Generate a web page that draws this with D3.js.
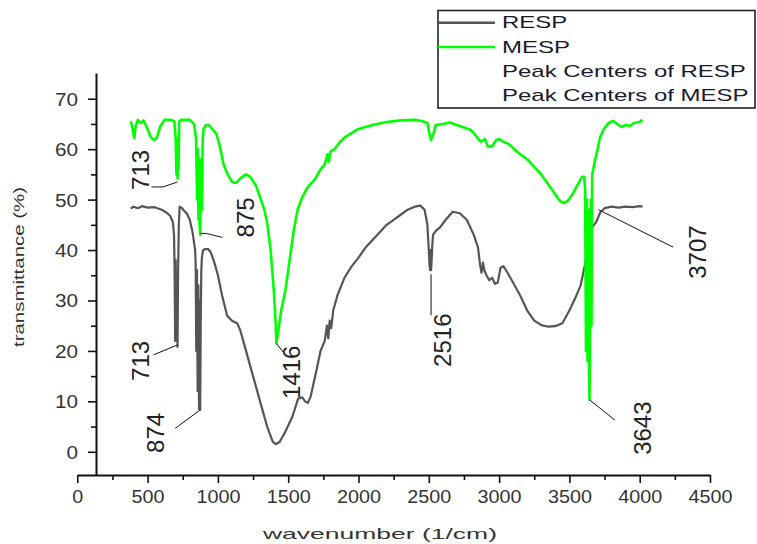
<!DOCTYPE html>
<html>
<head>
<meta charset="utf-8">
<script src="https://cdn.jsdelivr.net/npm/d3@7"></script>
<style>
  html, body { margin: 0; padding: 0; background: #fff; }
  svg { display: block; font-family: "Liberation Sans", Arial, sans-serif; }
</style>
</head>
<body>
<svg id="chart" width="757" height="544"></svg>
<script>
// ---------------- data: [wavenumber (1/cm), transmittance (%)] ----------------
const respPoints = [
  [380,48.2],[400,48.6],[430,48.3],[460,48.7],[500,48.4],[550,48.5],[600,48.0],[630,47.5],[660,46.8],[680,45.5],
  [688,43],[692,36],[696,22],[700,38],[704,22],[708,34],[713,20.8],[717,36],[722,45],[728,48.6],
  [745,48.3],[760,47.8],[780,47.2],[800,46],[820,43.5],[838,40],[842,37],[846,20],[851,36],[856,12],
  [861,33],[866,8.5],[870,30],[874,8.3],[878,26],[882,36],[886,38.5],[895,40],[910,40.2],[930,40.2],
  [950,39.5],[975,37.5],[1000,35],[1030,31],[1065,27],[1100,26],[1137,25.5],[1160,24],[1200,20],[1250,15],
  [1300,10],[1350,5],[1390,2],[1412,1.5],[1440,2],[1480,4],[1530,7],[1570,10.5],[1600,10.8],[1620,10],
  [1640,9.7],[1660,11],[1700,16],[1730,20],[1760,22],[1775,25],[1785,22.5],[1795,26],[1806,24.5],[1820,28],
  [1850,31],[1900,34.5],[1950,36.7],[2000,38.5],[2050,40.5],[2100,42],[2150,43.5],[2200,45],[2250,46],[2300,47],
  [2350,48],[2400,48.6],[2440,48.8],[2470,48],[2490,45],[2500,40],[2505,37],[2510,36],[2513,40],[2516,36],
  [2520,38],[2525,41],[2530,43],[2550,43.8],[2580,44.5],[2620,46],[2670,47.6],[2720,47.3],[2770,46],[2820,43],
  [2850,40.5],[2865,37],[2875,35.5],[2885,37.5],[2895,36],[2910,35],[2930,34],[2950,34.5],[2970,33.3],[2990,33.5],
  [3010,36.5],[3030,36.8],[3060,35.5],[3100,33.5],[3150,31],[3200,28],[3250,26],[3300,25.1],[3350,24.8],[3400,24.9],
  [3450,25.5],[3500,28],[3550,31],[3580,33],[3610,37],[3630,40.5],[3645,43],[3660,44.5],[3690,45.5],[3720,47.5],
  [3750,48.3],[3800,48.6],[3850,48.4],[3900,48.6],[3950,48.5],[4000,48.7],[4020,48.6]
];

const mespPoints = [
  [380,65.5],[390,64.5],[400,63],[405,62.2],[415,64.5],[430,65.8],[450,65.2],[470,65.7],[500,64],[520,62.5],
  [545,61.8],[565,62.2],[590,64.5],[620,65.8],[660,65.8],[690,65.6],[700,62],[705,55],[710,60],[713,54.2],
  [716,62],[720,56],[725,65.5],[740,65.8],[800,65.8],[830,65],[845,62],[852,50],[857,60],[862,46],
  [866,58],[870,45],[875,43],[880,58],[886,48],[892,62],[898,64],[915,64.8],[935,64.8],[960,64],
  [990,63],[1010,61],[1040,57],[1070,55],[1100,53.5],[1130,53.3],[1160,54.2],[1200,55],[1230,54.5],[1270,52.8],
  [1300,50.5],[1330,48],[1350,45.5],[1375,40],[1395,33],[1410,26],[1416,21.5],[1430,24],[1450,28],[1480,32],
  [1510,38],[1540,44],[1567,48],[1600,50.5],[1640,52.5],[1690,54],[1730,56],[1760,57],[1780,59],[1790,57.5],
  [1800,59.5],[1830,60],[1870,61.5],[1910,62.5],[1950,63.2],[2000,64],[2100,64.8],[2200,65.4],[2300,65.7],[2400,65.8],
  [2450,65.6],[2490,65.2],[2505,63],[2516,61.8],[2530,62.8],[2550,64.8],[2600,65],[2650,65.3],[2700,64.8],[2750,64.3],
  [2800,63.8],[2840,62.5],[2870,61.5],[2900,62],[2920,60.5],[2950,60.6],[2980,61.8],[3000,62],[3030,61.5],[3070,61],
  [3100,60.2],[3150,59],[3200,58],[3250,56.5],[3300,55],[3350,53],[3400,51],[3430,49.8],[3460,49.3],[3490,49.8],
  [3520,51],[3560,53],[3590,54.5],[3605,54.5],[3612,52],[3618,20],[3624,50],[3629,18],[3634,48],[3638,20],
  [3643,10.3],[3648,30],[3652,50],[3657,25],[3662,55],[3670,56],[3680,57.5],[3700,60],[3720,62.5],[3745,64],
  [3780,65.2],[3810,65.6],[3840,65],[3870,64.4],[3900,64.8],[3930,64.6],[3960,65.2],[4000,65.4],[4020,65.8]
];

const seriesNames = ["RESP", "MESP"];
const legendLabels = ["RESP", "MESP", "Peak Centers of RESP", "Peak Centers of MESP"];

const xTicks = [0,500,1000,1500,2000,2500,3000,3500,4000,4500];
const xMinorTicks = [250,750,1250,1750,2250,2750,3250,3750,4250];
const yTicks = [0,10,20,30,40,50,60,70];
const yMinorTicks = [5,15,25,35,45,55,65];

const peakLabels = ["713","713","874","875","1416","2516","3643","3707"];
const peakWn     = [713,713,874,875,1416,2516,3643,3707];
const peakT      = [53.5,21.2,8.3,43.3,21.5,36,10.3,48];

// ---------------- layout ----------------
const colors = { RESP: "#555555", MESP: "#00ff00" };
// leader polyline offsets (px) from the peak point, and label centre offset
const peakLayout = [
  { pts: [[-14.5,5],[-26,5]],  text: [-37.5,-12] },
  { pts: [[-24,10]],            text: [-37.5,16] },
  { pts: [[-25,18.4]],          text: [-45,23] },
  { pts: [[6,0],[22,4]],        text: [45,-16] },
  { pts: [[7,9]],               text: [15,29] },
  { pts: [[0,45]],              text: [11,70], start: [0,4] },
  { pts: [[25.5,20.3]],         text: [52.5,28.3] },
  { pts: [[74.5,37.4]],         text: [98.5,42.4] }
];

const svg = d3.select("#chart");
const x = d3.scaleLinear().domain([0, 4500]).range([77.3, 710]);
const y = d3.scaleLinear().domain([-4.6, 75.1]).range([475, 73]);
const yAxisX = 96;
const xAxisY = 475;

function stretch(sel, factor) {
  sel.each(function() {
    const n = this.getComputedTextLength();
    d3.select(this).attr("textLength", n * factor).attr("lengthAdjust", "spacingAndGlyphs");
  });
}

// ---------------- axes ----------------
const gx = svg.append("g").attr("transform", `translate(0,${xAxisY})`)
  .call(d3.axisBottom(x).tickValues(xTicks).tickFormat(d3.format("d")).tickSize(8).tickSizeOuter(0).tickPadding(0));
gx.select(".domain").attr("stroke", "#111").attr("stroke-width", 2);
gx.selectAll(".tick line").attr("stroke", "#111").attr("stroke-width", 1.6);
gx.selectAll(".tick text").attr("y", 28).attr("dy", 0)
  .attr("font-size", 19).attr("fill", "#333")
  .attr("font-family", "'Liberation Sans', Arial, sans-serif");
stretch(gx.selectAll(".tick text"), 1.04);
svg.append("g").attr("transform", `translate(0,${xAxisY})`)
  .call(d3.axisBottom(x).tickValues(xMinorTicks).tickSize(5).tickFormat(""))
  .call(g => g.select(".domain").remove())
  .selectAll(".tick line").attr("stroke", "#111").attr("stroke-width", 1.6);

const gy = svg.append("g").attr("transform", `translate(${yAxisX},0)`)
  .call(d3.axisLeft(y).tickValues(yTicks).tickFormat(d3.format("d")).tickSize(8).tickSizeOuter(0).tickPadding(10));
gy.select(".domain").attr("stroke", "#111").attr("stroke-width", 2);
gy.selectAll(".tick line").attr("stroke", "#111").attr("stroke-width", 1.6);
gy.selectAll(".tick text").attr("font-size", 18).attr("fill", "#333")
  .attr("font-family", "'Liberation Sans', Arial, sans-serif").attr("dy", "0.36em");
stretch(gy.selectAll(".tick text"), 1.15);
svg.append("g").attr("transform", `translate(${yAxisX},0)`)
  .call(d3.axisLeft(y).tickValues(yMinorTicks).tickSize(5).tickFormat(""))
  .call(g => g.select(".domain").remove())
  .selectAll(".tick line").attr("stroke", "#111").attr("stroke-width", 1.6);

// axis titles
svg.append("text").attr("x", 380).attr("y", 539).attr("text-anchor", "middle")
  .attr("font-size", 15).attr("fill", "#333").text("wavenumber (1/cm)")
  .attr("textLength", 234).attr("lengthAdjust", "spacingAndGlyphs");
svg.append("text").attr("transform", "translate(24,267) rotate(-90)").attr("text-anchor", "middle")
  .attr("font-size", 15).attr("fill", "#333").text("transmittance (%)")
  .attr("textLength", 160).attr("lengthAdjust", "spacingAndGlyphs");

// ---------------- series ----------------
const line = d3.line().x(d => x(d[0])).y(d => y(d[1]));
svg.append("path").datum(respPoints).attr("d", line).attr("fill", "none")
  .attr("stroke", colors.RESP).attr("stroke-width", 2.2).attr("stroke-linejoin", "round");
svg.append("path").datum(mespPoints).attr("d", line).attr("fill", "none")
  .attr("stroke", colors.MESP).attr("stroke-width", 2.6).attr("stroke-linejoin", "round");

// ---------------- peak annotations ----------------
peakLabels.forEach((lab, i) => {
  const px = x(peakWn[i]), py = y(peakT[i]);
  const L = peakLayout[i];
  const s = L.start || [0, 0];
  const pts = [[px + s[0], py + s[1]]].concat(L.pts.map(p => [px + p[0], py + p[1]]));
  svg.append("path").attr("d", d3.line()(pts)).attr("fill", "none")
    .attr("stroke", "#111").attr("stroke-width", 1);
  svg.append("text")
    .attr("transform", `translate(${px + L.text[0]},${py + L.text[1]}) rotate(-90)`)
    .attr("text-anchor", "middle").attr("dy", "0.36em")
    .attr("font-size", 24).attr("fill", "#222").text(lab);
});

// ---------------- legend ----------------
const lg = svg.append("g");
lg.append("rect").attr("x", 438).attr("y", 10.5).attr("width", 317).attr("height", 97.5)
  .attr("fill", "#fff").attr("stroke", "#222").attr("stroke-width", 1.6);
const rowBase = [28.3, 52.5, 77, 100.5];
legendLabels.forEach((lab, i) => {
  if (i < 2) {
    lg.append("line").attr("x1", 438).attr("x2", 495)
      .attr("y1", rowBase[i] - 5.5).attr("y2", rowBase[i] - 5.5)
      .attr("stroke", colors[seriesNames[i]]).attr("stroke-width", 2.4);
  }
  const t = lg.append("text").attr("x", 502).attr("y", rowBase[i])
    .attr("font-size", 17).attr("fill", "#1a1a2a").text(lab);
  stretch(t, 1.41);
});
</script>
</body>
</html>
